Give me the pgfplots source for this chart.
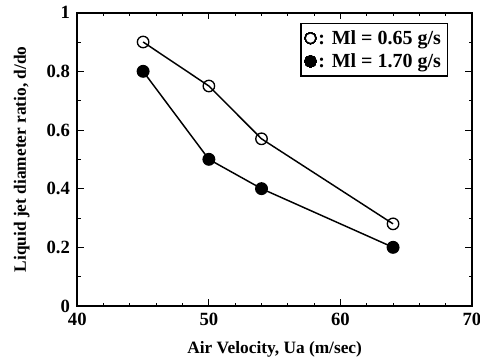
\documentclass[border=0pt]{standalone}
\usepackage{pgfplots}
\pgfplotsset{compat=1.18}
\usepackage{fontspec}
\setmainfont{Liberation Serif}
\begin{document}
\begin{tikzpicture}
\useasboundingbox (-58pt,-42pt) rectangle (302pt,229.5pt);
\begin{axis}[
  at={(0,0)}, anchor=origin,
  scale only axis,
  width=296pt, height=220pt,
  xmin=40, xmax=70, ymin=0, ymax=1,
  xtick={40,50,60,70}, ytick={0,0.2,0.4,0.6,0.8,1},
  yticklabels={0,0.2,0.4,0.6,0.8,1},
  minor x tick num=4, minor y tick num=1,
  tick align=inside,
  major tick length=5pt, minor tick length=2.5pt,
  axis line style={line width=1.6pt},
  every tick/.style={black, line width=0.7pt},
  tick label style={font=\fontsize{14}{16}\selectfont\bfseries},
  xticklabel style={yshift=-2pt},
  yticklabel style={xshift=-2pt},
  /pgf/number format/assume math mode=true,
  label style={font=\fontsize{13}{15}\selectfont\bfseries},
  xlabel={Air Velocity, Ua (m/sec)},
  ylabel={Liquid jet diameter ratio, d/do},
  xlabel style={yshift=-5pt},
  ylabel style={yshift=6pt},
  legend style={at={(0.94,0.965)}, anchor=north east, draw=black, line width=1pt,
    font=\fontsize{15}{16}\selectfont\bfseries, inner sep=3pt, row sep=1.5pt},
  legend cell align=left,
  legend image code/.code={\draw[#1, mark size=4pt] (0.15cm,0) -- plot[mark=*] (0.15cm,0);},
]
\addplot[black, line width=1.1pt, mark=o, mark size=4.3pt, mark options={fill=white, line width=1pt}]
  coordinates {(45,0.90) (50,0.75) (54,0.57) (64,0.28)};
\addlegendentry{: Ml = 0.65 g/s}
\addplot[black, line width=1.1pt, mark=*, mark size=4.3pt, mark options={fill=black}]
  coordinates {(45,0.80) (50,0.50) (54,0.40) (64,0.20)};
\addlegendentry{: Ml = 1.70 g/s}
\end{axis}
\end{tikzpicture}
\end{document}
